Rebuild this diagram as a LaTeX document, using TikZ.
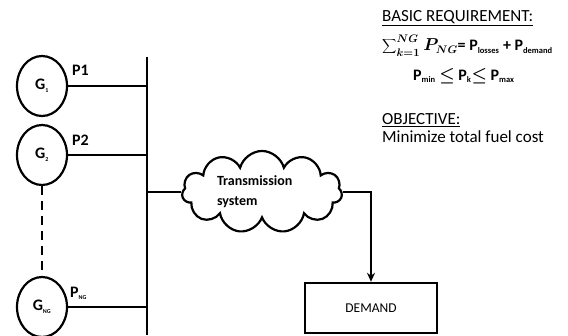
\documentclass[tikz,border=0pt]{standalone}
\usepackage{fontspec}
\setmainfont{Carlito}
\usetikzlibrary{arrows.meta, positioning, shapes.geometric, shapes.symbols}
\newcommand{\subtx}[1]{\textsubscript{\fontsize{6}{6}\selectfont #1}}
\newcommand{\subfx}[1]{\textsubscript{\fontsize{8.5}{8.5}\selectfont #1}}
\tikzset{
  gen/.style={draw, ellipse, line width=2.2pt, minimum width=50pt, minimum height=60pt, inner sep=0pt, font=\bfseries\fontsize{16}{16}\selectfont},
  wire/.style={line width=2.4pt},
  lbl/.style={font=\bfseries\fontsize{16}{16}\selectfont, inner sep=0pt},
  arr/.style={-{Stealth[length=9pt, width=8pt]}, line width=2.2pt},
  note/.style={anchor=north west, inner sep=0pt, font=\fontsize{17}{19}\selectfont},
}
\begin{document}
\begin{tikzpicture}[x=1pt, y=-1pt]
    \useasboundingbox (0,0) rectangle (568,335);
    % generators
    \node[gen] (g1) at (42,86) {G\subtx{1}};
    \node[gen] (g2) at (42,155) {G\subtx{2}};
    \node[gen] (gng) at (42,307) {G\subtx{NG}};
    \node[lbl, anchor=south west] (p1) at (72,76) {P1};
    \node[lbl, anchor=south west] (p2) at (72,146) {P2};
    \node[lbl, anchor=south west] (png) at (70,300) {P\subtx{NG}};
    % bus
    \coordinate (bustop) at (147,57);
    \coordinate (busbot) at (147,335);
    \draw[wire] (bustop) -- (busbot);
    \draw[wire] (g1.east) -- (g1.east -| bustop);
    \draw[wire] (g2.east) -- (g2.east -| bustop);
    \draw[wire] (gng.east) -- (gng.east -| bustop);
    \draw[wire, dash pattern=on 9pt off 6pt] (g2.south) -- (gng.north);
    % network and load
    \node[draw, cloud, cloud puffs=11, aspect=2.5, line width=2.2pt, minimum width=160pt, minimum height=64pt,
      text width=90pt, align=left, font=\bfseries\fontsize{14}{20}\selectfont] (tx) at (262,192) {Transmission\\system};
    \node[draw, line width=2.4pt, minimum width=132pt, minimum height=50pt, font=\fontsize{13.5}{14}\selectfont] (demand) at (371,308) {DEMAND};
    \draw[wire] (bustop |- tx.west) -- (tx.west);
    \draw[arr] (tx.east) -| (demand.north);
    % problem statement
    \node[note] (basic) at (382,10) {\underline{BASIC REQUIREMENT:}};
    \node[note, font=\bfseries\fontsize{16}{18}\selectfont] (balance) at (382,35)
      {{\boldmath$\displaystyle\sum\nolimits_{k=1}^{NG} P_{NG}$}= P\subfx{losses} + P\subfx{demand}};
    \node[note, font=\bfseries\fontsize{16}{18}\selectfont] (limits) at (413,68)
      {P\subfx{min} {\boldmath$\leq$} P\subfx{k}{\boldmath$\leq$} P\subfx{max}};
    \node[note] (obj) at (382,113) {\underline{OBJECTIVE:}};
    \node[note, below=4pt of obj.south west, anchor=north west] (goal) {Minimize total fuel cost};
\end{tikzpicture}
\end{document}
